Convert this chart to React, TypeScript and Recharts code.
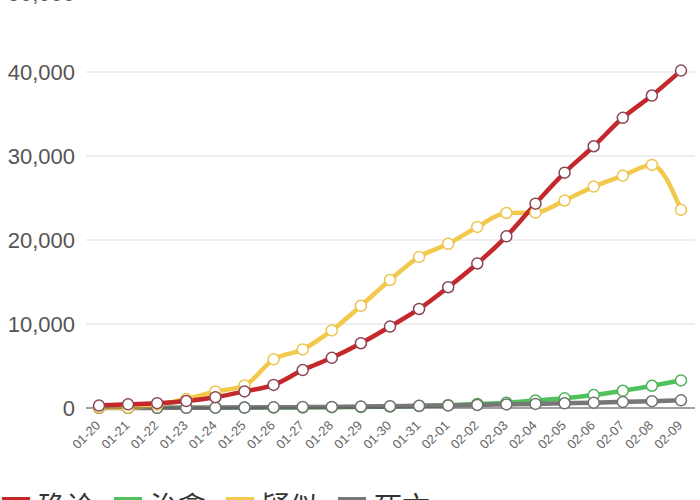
import { LineChart, Line, XAxis, YAxis, CartesianGrid, Legend } from 'recharts';

const dates = [
  '01-20', '01-21', '01-22', '01-23', '01-24', '01-25', '01-26', '01-27', '01-28', '01-29', '01-30',
  '01-31', '02-01', '02-02', '02-03', '02-04', '02-05', '02-06', '02-07', '02-08', '02-09',
];
const confirmed = [291, 440, 571, 830, 1287, 1975, 2744, 4515, 5974, 7711, 9692, 11791, 14380, 17205, 20438, 24324, 28018, 31161, 34546, 37198, 40171];
const cured = [25, 25, 28, 34, 38, 49, 51, 60, 103, 124, 171, 243, 328, 475, 632, 892, 1153, 1540, 2050, 2649, 3281];
const suspected = [54, 37, 393, 1072, 1965, 2684, 5794, 6973, 9239, 12167, 15238, 17988, 19544, 21558, 23214, 23260, 24702, 26359, 27657, 28942, 23589];
const deaths = [6, 9, 17, 25, 41, 56, 80, 106, 132, 170, 213, 259, 304, 361, 425, 490, 563, 636, 722, 811, 908];
const yTicks = [0, 10000, 20000, 30000, 40000, 50000];

const series = [
  { key: 'confirmed', name: '确诊', color: '#c4282b', dot: '#8a4656' },
  { key: 'cured', name: '治愈', color: '#4fc25b', dot: '#4fb25a' },
  { key: 'suspected', name: '疑似', color: '#f2c94c', dot: '#ecc44e' },
  { key: 'deaths', name: '死亡', color: '#777777', dot: '#707070' },
];

const data = dates.map((date, i) => ({
  date,
  confirmed: confirmed[i],
  cured: cured[i],
  suspected: suspected[i],
  deaths: deaths[i],
}));

const XTick = ({ x, y, payload }: any) => (
  <g transform={`translate(${x - 1},${y + 7})`}>
    <text
      x={0}
      y={0}
      dy="0.35em"
      textAnchor="end"
      transform="rotate(-45)"
      fontSize={13}
      fill="#666"
      fontFamily="'Liberation Sans', Arial, sans-serif"
    >
      {payload.value}
    </text>
  </g>
);

const renderLegend = () => (
  <div style={{ display: 'flex', height: 40, alignItems: 'center', paddingLeft: 2, paddingTop: 3, boxSizing: 'border-box' }}>
    {series.map((s) => (
      <div key={s.key} style={{ display: 'flex', alignItems: 'center', marginRight: 20 }}>
        <span
          style={{
            display: 'inline-block',
            width: 28,
            height: 4,
            background: s.color,
            marginRight: 8,
            position: 'relative',
            top: -6,
          }}
        />
        <span style={{ fontSize: 28, lineHeight: '40px', color: '#333', fontFamily: "'Noto Sans CJK SC', sans-serif" }}>
          {s.name}
        </span>
      </div>
    ))}
  </div>
);

// draw order: yellow under red, grey over green
const drawOrder = ['cured', 'deaths', 'suspected', 'confirmed'];

export default function App() {
  return (
    <div style={{ position: 'absolute', left: 0, top: -20 }}>
      <LineChart width={700} height={560} data={data} margin={{ top: 8, right: 5, bottom: 17, left: 0 }}>
        <CartesianGrid vertical={false} stroke="#dddddd" />
        <XAxis
          dataKey="date"
          height={75}
          padding={{ left: 13, right: 14 }}
          tick={<XTick />}
          tickLine={false}
          axisLine={{ stroke: '#555' }}
          interval={0}
        />
        <YAxis
          width={86}
          domain={[0, 50000]}
          ticks={yTicks}
          tickFormatter={(v: number) => v.toLocaleString('en-US')}
          tick={{ fontSize: 22, fill: '#555', fontFamily: "'Liberation Sans', Arial, sans-serif" }}
          tickMargin={5}
          axisLine={false}
          tickLine={false}
        />
        <Legend verticalAlign="bottom" content={renderLegend} />
        {drawOrder.map((k) => {
          const s = series.find((x) => x.key === k)!;
          return (
            <Line
              key={s.key}
              dataKey={s.key}
              name={s.name}
              type="monotone"
              stroke={s.color}
              strokeWidth={4.5}
              dot={{ r: 5.5, fill: '#fff', stroke: s.dot, strokeWidth: 1.5 }}
              isAnimationActive={false}
            />
          );
        })}
      </LineChart>
    </div>
  );
}
